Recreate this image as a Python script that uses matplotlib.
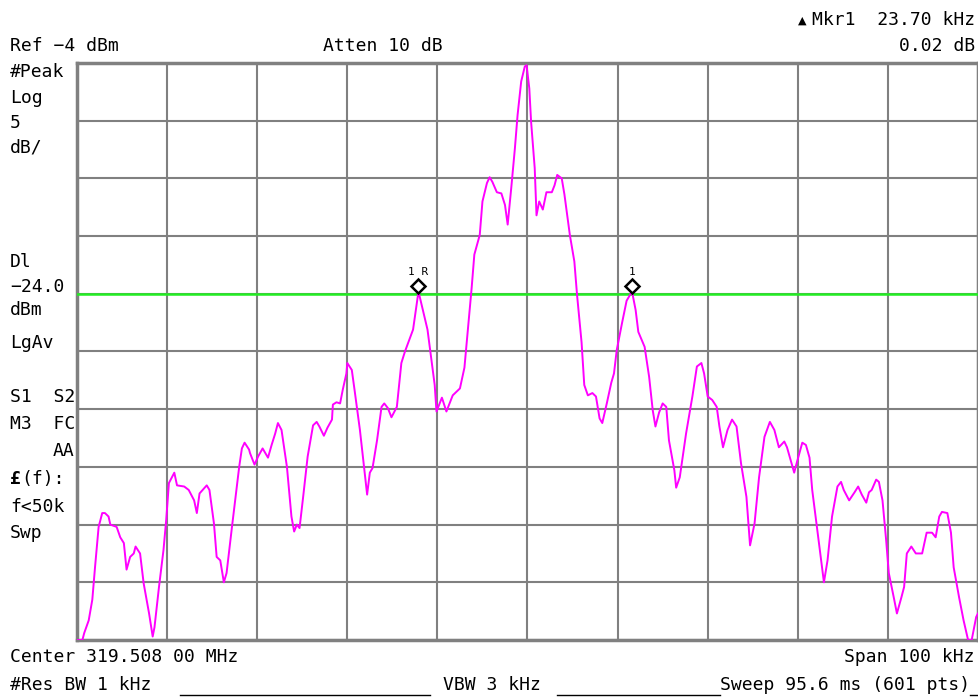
import numpy as np
import matplotlib
matplotlib.use("Agg")
import matplotlib.pyplot as plt
from matplotlib.lines import Line2D
from matplotlib.transforms import offset_copy

# 画面設定
REF_LEVEL = -4.0      # dBm
DB_PER_DIV = 5.0
SPAN_KHZ = 100.0
DISPLAY_LINE = -24.0  # dBm

# トレース (中心からの周波数 kHz, レベル dBm)
freq_khz = [
    -50.0, -49.4, -49.2, -48.7, -48.3, -48.0, -47.6, -47.2, -46.9, -46.5,
    -46.3, -45.6, -45.2, -44.8, -44.5, -44.1, -43.7, -43.5, -43.0, -42.6,
    -42.0, -41.6, -41.4, -40.9, -40.4, -40.1, -39.8, -39.2, -38.9, -38.1,
    -37.6, -37.0, -36.7, -36.4, -35.6, -35.3, -34.8, -34.5, -34.1, -33.7,
    -33.4, -32.8, -32.0, -31.7, -31.4, -30.9, -30.8, -30.3, -29.9, -29.4,
    -28.8, -28.4, -28.0, -27.7, -27.3, -26.7, -26.2, -25.9, -25.6, -25.3,
    -24.9, -24.4, -23.8, -23.4, -23.1, -22.6, -22.2, -21.7, -21.6, -21.2,
    -20.8, -20.5, -20.1, -20.0, -19.5, -19.2, -18.6, -18.1, -17.8, -17.5,
    -17.2, -16.7, -16.2, -15.9, -15.5, -15.1, -14.5, -14.0, -13.6, -12.7,
    -12.1, -11.1, -10.3, -10.1, -9.5, -9.0, -8.3, -7.5, -7.0, -6.7,
    -6.2, -5.9, -5.3, -5.0, -4.5, -4.2, -3.9, -3.4, -2.9, -2.5,
    -2.2, -1.8, -1.4, -1.1, -0.7, -0.3, -0.1, 0.2, 0.4, 0.8,
    1.0, 1.3, 1.7, 2.1, 2.7, 3.0, 3.3, 3.8, 4.1, 4.7,
    5.2, 5.5, 6.0, 6.3, 6.7, 7.2, 7.6, 8.0, 8.3, 8.8,
    9.3, 9.6, 9.9, 10.5, 11.0, 11.6, 12.0, 12.3, 13.0, 13.5,
    13.9, 14.2, 14.6, 15.0, 15.4, 15.7, 16.3, 16.5, 16.9, 17.6,
    18.3, 18.8, 19.3, 19.6, 20.0, 20.5, 21.0, 21.3, 21.7, 22.2,
    22.7, 23.2, 23.7, 24.3, 24.7, 25.2, 25.7, 26.3, 26.9, 27.4,
    27.9, 28.5, 28.8, 29.6, 29.9, 30.5, 30.9, 31.3, 31.6, 32.2,
    32.6, 32.9, 33.3, 33.8, 34.4, 34.8, 35.1, 35.7, 36.3, 36.7,
    37.1, 37.6, 37.9, 38.2, 38.7, 39.0, 39.4, 39.8, 40.1, 40.7,
    41.0, 41.5, 41.8, 42.1, 42.6, 43.1, 43.8, 44.3, 44.9, 45.3,
    45.7, 46.0, 46.6, 47.0, 47.3, 47.9, 48.4, 48.9, 49.3, 49.8,
    50.0,
]
level_dbm = [
    -54.0, -54.0, -53.4, -52.3, -50.5, -47.7, -44.2, -43.0, -43.0, -43.3,
    -44.0, -44.2, -45.1, -45.6, -47.9, -46.8, -46.5, -45.9, -46.5, -49.1,
    -51.7, -53.7, -52.9, -49.4, -46.2, -43.6, -40.4, -39.5, -40.6, -40.7,
    -41.0, -41.9, -43.0, -41.3, -40.6, -41.0, -43.9, -46.8, -47.1, -49.0,
    -48.2, -44.2, -39.0, -37.4, -36.9, -37.5, -37.8, -38.8, -38.1, -37.4,
    -38.2, -37.1, -36.1, -35.2, -35.8, -39.0, -43.3, -44.6, -44.0, -44.3,
    -41.6, -38.1, -35.4, -35.1, -35.5, -36.3, -35.6, -34.9, -33.6, -33.4,
    -33.5, -32.3, -30.9, -30.0, -30.6, -32.3, -35.8, -39.3, -41.4, -39.5,
    -39.1, -36.7, -33.8, -33.5, -33.9, -34.7, -33.8, -30.0, -29.0, -27.1,
    -23.8, -27.1, -31.9, -34.2, -33.0, -34.2, -32.8, -32.2, -30.4, -27.8,
    -23.5, -20.6, -18.9, -16.0, -14.4, -13.9, -14.3, -15.2, -15.3, -16.3,
    -18.0, -14.8, -11.4, -8.5, -5.6, -4.3, -4.2, -6.2, -9.1, -13.1,
    -17.2, -16.0, -16.7, -15.2, -15.2, -14.6, -13.7, -14.0, -15.4, -18.9,
    -21.2, -24.1, -28.2, -31.9, -32.8, -32.6, -32.9, -34.8, -35.2, -33.5,
    -31.7, -30.9, -28.9, -26.5, -24.6, -23.8, -25.4, -27.3, -28.6, -31.2,
    -34.1, -35.5, -34.3, -33.5, -33.8, -36.7, -39.3, -40.8, -39.9, -36.1,
    -32.9, -30.3, -30.0, -30.9, -32.9, -33.2, -33.8, -35.5, -37.3, -35.8,
    -34.9, -35.5, -38.7, -41.6, -45.8, -43.9, -39.9, -36.4, -35.1, -35.8,
    -37.3, -36.8, -37.3, -39.5, -38.6, -36.9, -37.1, -38.2, -41.0, -44.7,
    -47.1, -49.0, -47.1, -43.3, -40.7, -40.3, -41.0, -41.9, -41.2, -40.7,
    -41.4, -42.1, -41.2, -41.0, -40.1, -40.3, -41.9, -45.3, -48.2, -50.5,
    -51.7, -50.3, -49.4, -46.5, -45.9, -46.5, -46.5, -44.7, -44.7, -45.1,
    -43.3, -42.9, -43.0, -44.7, -47.7, -50.3, -52.3, -54.0, -54.0, -52.0,
    -51.7,
]

# マーカー
marker_khz = [-12.1, 11.6]
marker_dbm = [-23.85, -23.85]
marker_labels = ["1R", "1"]

# 左側の注記 (テキスト, y座標 ピクセル)
left_notes = [
    ("#Peak", 72), ("Log", 98), ("5", 123), ("dB/", 147),
    ("Dl", 262), ("\u221224.0", 287), ("dBm", 310), ("LgAv", 343),
    ("S1  S2", 397), ("M3  FC", 424), ("f<50k", 507), ("Swp", 533),
]

W, H = 979, 698
fig = plt.figure(figsize=(W / 100, H / 100), dpi=100)
fig.patch.set_facecolor("white")

# プロット領域 (ピクセル -> figure座標)
x0, x1, y0, y1 = 77, 978, 63, 640
ax = fig.add_axes([x0 / W, 1 - y1 / H, (x1 - x0) / W, (y1 - y0) / H])

bottom = REF_LEVEL - 10 * DB_PER_DIV
ax.set_xlim(-SPAN_KHZ / 2, SPAN_KHZ / 2)
ax.set_ylim(bottom, REF_LEVEL)
ax.set_xticks(np.linspace(-SPAN_KHZ / 2, SPAN_KHZ / 2, 11))
ax.set_yticks(np.linspace(bottom, REF_LEVEL, 11))
ax.tick_params(length=0, labelbottom=False, labelleft=False)
ax.grid(True, color="#808080", lw=1.5)
for s in ax.spines.values():
    s.set_color("#808080")
    s.set_linewidth(2.5)

ax.axhline(DISPLAY_LINE, color="#22ee22", lw=1.8, zorder=3)
ax.plot(freq_khz, np.clip(level_dbm, bottom, None), color="#ff00ff", lw=1.4, zorder=4)

# マーカーの◇と番号
up = offset_copy(ax.transData, fig=fig, x=0, y=6, units="dots")
for f, d, lab in zip(marker_khz, marker_dbm, marker_labels):
    ax.plot([f], [d], marker="D", ms=7, mfc="white", mec="black", mew=1.8,
            transform=up, zorder=6, clip_on=False)
    ax.text(f, d, " ".join(lab), transform=offset_copy(ax.transData, fig=fig, x=0, y=20, units="dots"),
            ha="center", va="center", fontsize=8, family="DejaVu Sans Mono", zorder=6)

# 文字
mono = "DejaVu Sans Mono"
fs = 13


def put(x, y, s, ha="left", **kw):
    fig.text(x / W, 1 - y / H, s, ha=ha, va="center", fontsize=fs, family=mono, **kw)


put(10, 46, "Ref \u22124 dBm")
put(323, 46, "Atten 10 dB")
put(975, 20, "Mkr1  23.70 kHz", ha="right")
fig.text(806 / W, 1 - 21 / H, "\u25B2", ha="right", va="center", fontsize=8, family="DejaVu Sans")
put(975, 46, "0.02 dB", ha="right")
for s, y in left_notes:
    put(10, y, s)
put(74, 451, "AA", ha="right")
fig.text(10 / W, 1 - 479 / H, "\u00A3", ha="left", va="center", fontsize=fs, family=mono, weight="bold")
put(21, 479, "(f):")

put(10, 657, "Center 319.508 00 MHz")
put(975, 657, "Span 100 kHz", ha="right")
put(10, 685, "#Res BW 1 kHz")
put(443, 685, "VBW 3 kHz")
put(720, 685, "Sweep 95.6 ms (601 pts)")

# 下線
for xa, xb in [(180, 430), (557, 720), (970, 979)]:
    fig.add_artist(Line2D([xa / W, xb / W], [1 - 695 / H] * 2, color="black", lw=1))

fig.savefig("out.png", dpi=100, facecolor="white")
